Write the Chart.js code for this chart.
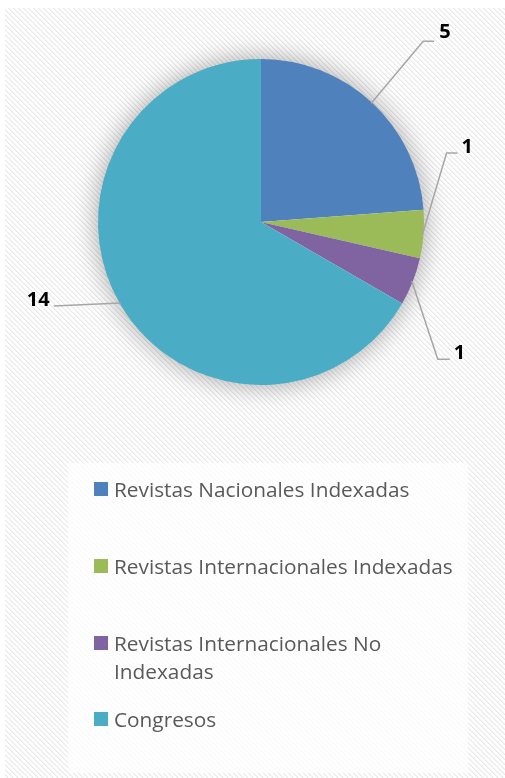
<!DOCTYPE html>
<html>
<head>
<meta charset="utf-8">
<script src="https://cdn.jsdelivr.net/npm/chart.js@4.4.1/dist/chart.umd.min.js"></script>
<style>
    html, body { margin: 0; padding: 0; background: #fff; }
    #wrap { position: relative; width: 505px; height: 778px; overflow: hidden; }
    #pie { position: absolute; left: 0; top: 0; }
    #legend {
        position: absolute; left: 68px; top: 463px; width: 400px; height: 310px;
        background: rgba(255, 255, 255, 0.72);
        font-family: "Open Sans", sans-serif; font-size: 20.8px; line-height: 28px; color: #595959;
    }
    .item { position: absolute; left: 26px; width: 380px; }
    .item .box { position: absolute; left: 0; top: 7px; width: 14px; height: 14px; }
    .item .txt { margin-left: 20px; }
</style>
</head>
<body>
<div id="wrap">
    <canvas id="pie" width="505" height="778"></canvas>
    <div id="legend"></div>
</div>
<script>
(function() {
    // Datos del gráfico
    const labels = [
        'Revistas Nacionales Indexadas',
        'Revistas Internacionales Indexadas',
        'Revistas Internacionales No Indexadas',
        'Congresos'
    ];
    const values = [5, 1, 1, 14];
    const colors = ['#4F81BD', '#9BBB59', '#8064A2', '#4BACC6'];

    // posición de las etiquetas: codo relativo al borde del sector, tramo horizontal
    const labelLayout = [
        { dx: 52, dy: -62, h: 11, gap: 5, lift: 3 },
        { dx: 24, dy: -81, h: 11, gap: 4, lift: 0 },
        { dx: 26, dy: 78, h: 12, gap: 4, lift: 0 },
        { dx: -67, dy: 3, h: 0, gap: 4, lift: 0 }
    ];
    // posición vertical de cada fila de la leyenda
    const legendTops = [12, 89, 166, 242];

    function makeHatch() {
        const c = document.createElement('canvas');
        c.width = 5; c.height = 5;
        const g = c.getContext('2d');
        g.fillStyle = '#ffffff';
        g.fillRect(0, 0, 5, 5);
        for (let i = 0; i < 5; i++) {
            g.fillStyle = '#e9e9e9';
            g.fillRect(i, i, 1, 1);
            g.fillStyle = '#f3f3f3';
            g.fillRect((i + 1) % 5, i, 1, 1);
        }
        return c;
    }

    const backgroundPlugin = {
        id: 'hatchBackground',
        beforeDraw(chart) {
            const ctx = chart.ctx;
            ctx.save();
            ctx.fillStyle = '#fff';
            ctx.fillRect(0, 0, chart.width, chart.height);
            ctx.fillStyle = ctx.createPattern(makeHatch(), 'repeat');
            ctx.fillRect(5, 8, chart.width - 5, chart.height - 8);
            ctx.restore();
        }
    };

    // sombra difusa alrededor del pastel
    const glowPlugin = {
        id: 'pieGlow',
        beforeDatasetsDraw(chart) {
            const ctx = chart.ctx;
            const arc = chart.getDatasetMeta(0).data[0];
            if (!arc) return;
            ctx.save();
            ctx.shadowColor = 'rgba(0, 0, 0, 0.38)';
            ctx.shadowBlur = 28;
            ctx.fillStyle = '#ffffff';
            ctx.beginPath();
            ctx.arc(arc.x, arc.y, arc.outerRadius - 1, 0, Math.PI * 2);
            ctx.fill();
            ctx.restore();
        }
    };

    const leaderPlugin = {
        id: 'leaderLabels',
        afterDatasetsDraw(chart) {
            const ctx = chart.ctx;
            const meta = chart.getDatasetMeta(0);
            ctx.save();
            meta.data.forEach((arc, i) => {
                const p = arc.getProps(['x', 'y', 'startAngle', 'endAngle', 'outerRadius'], true);
                const mid = (p.startAngle + p.endAngle) / 2;
                const ex = p.x + Math.cos(mid) * (p.outerRadius - 1);
                const ey = p.y + Math.sin(mid) * (p.outerRadius - 1);
                const lay = labelLayout[i];
                const bx = ex + lay.dx;
                const by = ey + lay.dy;
                const right = lay.dx >= 0;
                const tx = right ? bx + lay.h : bx - lay.h;

                ctx.strokeStyle = '#a6a6a6';
                ctx.lineWidth = 1.5;
                ctx.beginPath();
                ctx.moveTo(ex, ey);
                ctx.lineTo(bx, by);
                ctx.lineTo(tx, by);
                ctx.stroke();

                ctx.fillStyle = '#000';
                ctx.font = 'bold 20px "Open Sans", sans-serif';
                ctx.textBaseline = 'alphabetic';
                ctx.textAlign = right ? 'left' : 'right';
                ctx.fillText(String(values[i]), right ? tx + lay.gap : tx - lay.gap, by - lay.lift);
            });
            ctx.restore();
        }
    };

    new Chart(document.getElementById('pie'), {
        type: 'pie',
        data: {
            labels: labels,
            datasets: [{
                data: values,
                backgroundColor: colors,
                borderWidth: 0
            }]
        },
        options: {
            responsive: false,
            animation: false,
            devicePixelRatio: 1,
            layout: {
                padding: { left: 98, right: 81, top: 59, bottom: 393 }
            },
            plugins: {
                legend: { display: false },
                tooltip: { enabled: false }
            }
        },
        plugins: [backgroundPlugin, glowPlugin, leaderPlugin]
    });

    // leyenda HTML (permite el salto de línea como en el original)
    const legendEl = document.getElementById('legend');
    labels.forEach((label, i) => {
        const item = document.createElement('div');
        item.className = 'item';
        item.style.top = legendTops[i] + 'px';
        item.innerHTML = '<span class="box" style="background:' + colors[i] + '"></span><div class="txt"></div>';
        item.querySelector('.txt').textContent = label;
        legendEl.appendChild(item);
    });
})();
</script>
</body>
</html>
